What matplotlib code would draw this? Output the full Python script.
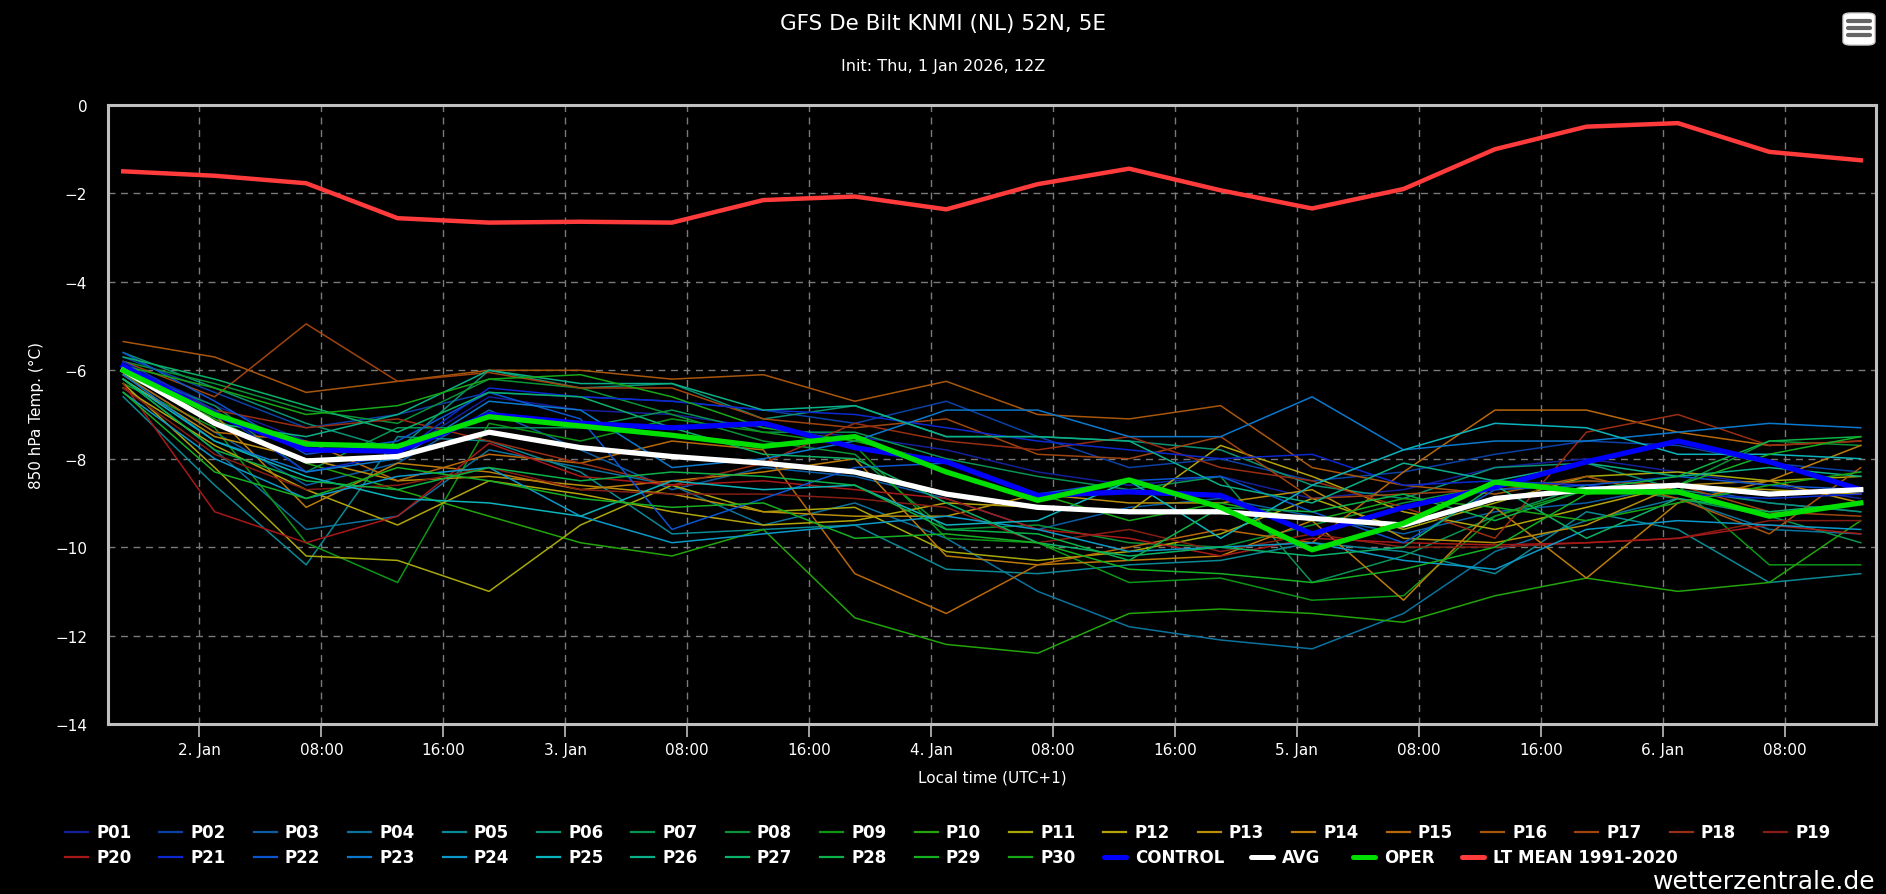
import matplotlib
matplotlib.use("Agg")
import matplotlib.pyplot as plt
import matplotlib.dates as mdates
from matplotlib.lines import Line2D
from matplotlib.patches import FancyBboxPatch
from matplotlib.ticker import FuncFormatter
import pandas as pd

# GFS ensemble 850 hPa temperature, De Bilt, run 1 Jan 2026 12Z (local time UTC+1)
times = pd.date_range("2026-01-01 19:00", periods=20, freq="6h")

members = {
    "P01": [-5.9, -6.8, -7.6, -7.9, -6.6, -6.9, -7.0, -7.3, -7.5, -7.8, -8.3, -8.6, -8.4, -8.9, -8.7, -8.2, -8.0, -8.3, -8.6, -8.9],
    "P02": [-5.7, -6.5, -7.3, -7.0, -6.5, -6.6, -6.7, -6.9, -7.2, -6.7, -7.5, -8.2, -8.0, -8.5, -8.3, -7.9, -7.6, -7.7, -8.1, -8.3],
    "P03": [-6.1, -7.4, -8.6, -8.1, -6.9, -7.8, -8.7, -8.2, -8.4, -8.9, -9.6, -9.1, -8.9, -9.3, -9.7, -9.2, -9.0, -8.6, -9.0, -9.2],
    "P04": [-6.2, -7.8, -9.6, -9.3, -7.8, -8.2, -8.6, -9.5, -9.0, -9.8, -11.0, -11.8, -12.1, -12.3, -11.5, -10.1, -9.4, -8.9, -9.6, -9.7],
    "P05": [-6.6, -8.6, -10.4, -7.5, -7.6, -8.3, -9.7, -9.6, -9.5, -10.5, -10.6, -10.4, -10.3, -9.9, -10.1, -10.6, -9.2, -9.6, -10.8, -10.6],
    "P06": [-5.6, -6.4, -7.2, -7.8, -6.0, -6.4, -6.3, -7.1, -6.8, -7.5, -7.5, -7.6, -7.8, -8.6, -8.9, -8.2, -8.1, -8.7, -9.0, -9.2],
    "P07": [-6.0, -6.8, -8.3, -7.3, -7.3, -7.3, -6.9, -7.4, -7.4, -8.0, -8.4, -8.7, -8.4, -10.8, -10.2, -9.3, -8.6, -8.9, -9.3, -9.9],
    "P08": [-5.8, -6.3, -6.9, -7.2, -6.2, -6.4, -7.0, -7.6, -7.9, -9.6, -9.5, -9.9, -10.0, -9.5, -9.0, -8.6, -8.5, -8.6, -7.6, -7.7],
    "P09": [-6.3, -7.3, -9.9, -10.8, -7.2, -7.6, -7.1, -7.4, -7.7, -9.8, -9.9, -10.8, -10.7, -11.2, -11.1, -9.3, -8.7, -8.6, -10.4, -10.4],
    "P10": [-6.1, -7.1, -8.1, -8.7, -9.3, -9.9, -10.2, -9.6, -11.6, -12.2, -12.4, -11.5, -11.4, -11.5, -11.7, -11.1, -10.7, -11.0, -10.8, -9.4],
    "P11": [-6.3, -8.2, -10.2, -10.3, -11.0, -9.5, -8.6, -9.2, -9.1, -10.1, -10.3, -10.1, -9.7, -8.9, -9.6, -9.0, -8.4, -8.3, -8.5, -8.4],
    "P12": [-6.4, -7.7, -8.7, -9.5, -8.5, -8.8, -9.2, -9.5, -9.4, -9.0, -9.1, -9.2, -7.7, -8.4, -9.2, -9.6, -9.1, -8.6, -8.7, -8.8],
    "P13": [-6.2, -7.5, -8.0, -8.5, -8.4, -8.6, -8.8, -9.2, -9.3, -9.3, -8.8, -9.0, -9.0, -8.7, -9.8, -9.9, -9.5, -8.6, -8.5, -9.0],
    "P14": [-6.0, -7.0, -9.1, -8.1, -8.3, -8.7, -8.5, -8.3, -8.0, -10.2, -10.4, -10.3, -10.2, -9.4, -11.2, -9.1, -10.7, -9.0, -8.5, -7.7],
    "P15": [-6.1, -7.4, -7.6, -8.5, -7.9, -8.1, -7.6, -7.8, -10.6, -11.5, -10.4, -10.0, -9.6, -9.9, -8.3, -6.9, -6.9, -7.4, -7.7, -7.6],
    "P16": [-5.35, -5.7, -6.5, -6.25, -6.0, -6.0, -6.2, -6.1, -6.7, -6.25, -7.0, -7.1, -6.8, -8.2, -8.6, -8.8, -8.4, -8.9, -9.7, -8.2],
    "P17": [-5.8, -6.6, -4.95, -6.25, -6.05, -6.4, -6.4, -7.1, -7.3, -7.1, -7.9, -8.0, -7.5, -8.9, -8.8, -8.7, -8.5, -8.6, -9.2, -9.3],
    "P18": [-6.0, -6.9, -7.3, -7.1, -7.6, -8.1, -8.6, -8.1, -7.2, -7.6, -7.8, -7.5, -8.2, -8.5, -9.1, -9.8, -7.4, -7.0, -7.7, -7.6],
    "P19": [-6.4, -7.9, -8.7, -8.6, -8.2, -8.7, -8.8, -8.8, -8.9, -9.1, -9.9, -9.6, -10.1, -9.7, -10.0, -10.0, -9.9, -9.8, -9.4, -9.4],
    "P20": [-6.3, -9.2, -9.9, -9.3, -7.65, -8.4, -8.6, -8.5, -8.7, -8.9, -9.6, -9.8, -10.2, -9.8, -9.9, -9.95, -9.9, -9.8, -9.5, -9.7],
    "P21": [-5.8, -6.9, -8.3, -7.9, -6.4, -6.6, -6.7, -6.9, -7.0, -7.3, -7.6, -7.8, -8.0, -7.9, -8.6, -8.5, -8.6, -8.8, -8.9, -8.8],
    "P22": [-5.6, -6.7, -7.9, -7.6, -6.5, -7.1, -9.6, -8.9, -8.2, -8.1, -8.8, -8.5, -8.4, -9.2, -9.9, -8.7, -8.6, -8.4, -8.6, -8.7],
    "P23": [-6.1, -7.6, -8.3, -8.0, -6.7, -6.9, -8.2, -8.0, -7.6, -6.9, -6.9, -7.5, -7.5, -6.6, -7.8, -7.6, -7.6, -7.4, -7.2, -7.3],
    "P24": [-6.5, -8.0, -8.9, -8.4, -8.2, -9.3, -9.9, -9.7, -9.5, -9.3, -9.6, -10.1, -10.0, -9.9, -10.3, -10.5, -9.6, -9.4, -9.5, -9.6],
    "P25": [-6.2, -7.6, -8.4, -8.9, -9.0, -9.3, -8.5, -8.7, -8.6, -9.5, -9.4, -8.5, -9.8, -8.6, -7.8, -7.2, -7.3, -7.9, -7.9, -8.0],
    "P26": [-6.0, -7.2, -7.5, -7.0, -6.0, -6.3, -6.3, -6.9, -6.8, -7.5, -7.5, -7.6, -8.6, -9.0, -8.1, -8.5, -8.1, -8.4, -8.2, -8.4],
    "P27": [-5.7, -6.2, -6.8, -7.4, -6.5, -6.6, -7.3, -7.9, -8.0, -9.0, -9.9, -10.2, -10.0, -10.2, -10.0, -8.6, -9.8, -8.9, -9.2, -9.0],
    "P28": [-6.2, -7.8, -8.5, -8.7, -8.2, -8.5, -8.3, -8.4, -8.6, -9.6, -9.7, -10.3, -9.1, -9.2, -8.8, -9.4, -8.7, -8.4, -7.6, -7.5],
    "P29": [-6.5, -8.3, -8.9, -8.2, -8.5, -8.9, -9.1, -9.0, -9.8, -9.7, -9.9, -10.5, -10.6, -10.8, -10.5, -10.0, -8.8, -8.6, -7.9, -7.5],
    "P30": [-5.9, -6.4, -7.0, -6.8, -6.2, -6.1, -6.6, -7.3, -7.6, -8.1, -8.8, -9.4, -9.0, -9.4, -8.9, -9.1, -9.4, -9.0, -8.6, -8.3],
}

control = [-5.9, -7.0, -7.8, -7.83, -7.0, -7.2, -7.3, -7.2, -7.75, -8.07, -8.83, -8.75, -8.83, -9.7, -9.1, -8.64, -8.07, -7.6, -8.07, -8.7]
avg = [-6.0, -7.2, -8.05, -7.95, -7.4, -7.75, -7.95, -8.1, -8.3, -8.8, -9.1, -9.2, -9.2, -9.35, -9.5, -8.9, -8.7, -8.6, -8.8, -8.7]
oper = [-6.0, -7.0, -7.67, -7.72, -7.05, -7.26, -7.47, -7.72, -7.5, -8.3, -8.94, -8.48, -9.1, -10.06, -9.46, -8.53, -8.75, -8.75, -9.3, -9.0]
lt_mean = [-1.5, -1.6, -1.77, -2.56, -2.66, -2.64, -2.66, -2.15, -2.07, -2.36, -1.79, -1.44, -1.93, -2.34, -1.9, -1.0, -0.49, -0.41, -1.06, -1.25]

member_colors = ['#14209a', '#0b40a4', '#0a5ca4', '#0a729c', '#0a8894', '#0a9274', '#0a9254', '#0a9236', '#0c9618', '#22a40a',
                 '#a8a80a', '#b4a40a', '#b88e0a', '#bc7c0a', '#b8680a', '#a8560c', '#a0440e', '#982e12', '#861e14', '#a81818',
                 '#0c28d0', '#0a54d0', '#0a78cc', '#0a98c8', '#0ab4bc', '#0ab088', '#0ab268', '#0ab248', '#14b024', '#16a816']

W, H = 1886, 895
fig = plt.figure(figsize=(W / 100, H / 100), dpi=100, facecolor='black')
ax = fig.add_axes([108 / W, 1 - 725 / H, (1876 - 108) / W, (725 - 106) / H])
ax.set_facecolor('black')

for (name, vals), col in zip(members.items(), member_colors):
    ax.plot(times, vals, color=col, lw=1.1, zorder=2)
ax.plot(times, control, color='#0000ff', lw=3.8, zorder=3)
ax.plot(times, avg, color='#ffffff', lw=3.8, zorder=4)
ax.plot(times, oper, color='#00e000', lw=3.8, zorder=5)
ax.plot(times, lt_mean, color='#ff3b3b', lw=3.2, zorder=6)

ax.set_xlim(pd.Timestamp("2026-01-01 18:00"), pd.Timestamp("2026-01-06 14:00"))
ax.set_ylim(-14, 0)
ax.set_yticks(range(-14, 1, 2))
ax.yaxis.set_major_formatter(FuncFormatter(lambda v, p: f"{int(v)}".replace('-', '\u2212')))
ax.xaxis.set_major_locator(mdates.HourLocator(byhour=[0, 8, 16]))


def fmt_time(v, pos):
    d = mdates.num2date(v)
    if d.hour == 0:
        return f"{d.day}. Jan"
    return d.strftime("%H:%M")


ax.xaxis.set_major_formatter(FuncFormatter(fmt_time))
ax.grid(True, color='#7a7a7a', ls=(0, (5, 4)), lw=1.0, zorder=1)
for s in ax.spines.values():
    s.set_color('#c0c0c0')
    s.set_linewidth(2.2)
ax.tick_params(axis='x', colors='#c0c0c0', length=9, width=1.2, labelcolor='white', labelsize=11, pad=4)
ax.tick_params(axis='y', length=0, labelcolor='white', labelsize=11, pad=15)

ax.set_ylabel('850 hPa Temp. (°C)', color='white', fontsize=11, labelpad=8)
ax.set_xlabel('Local time (UTC+1)', color='white', fontsize=11, labelpad=9)

fig.text(0.5, 1 - 24 / H, 'GFS De Bilt KNMI (NL) 52N, 5E', color='white', fontsize=15.5,
         ha='center', va='center')
fig.text(0.5, 1 - 66 / H, 'Init: Thu, 1 Jan 2026, 12Z', color='white', fontsize=11.5,
         ha='center', va='center')

# legend drawn by hand to keep the fixed column layout
leg_font = ['Liberation Sans Narrow', 'DejaVu Sans']
names = list(members.keys())
row_y = [833, 858]
for i, name in enumerate(names):
    if i < 19:
        x0, y = 65 + 94.4 * i, row_y[0]
    else:
        x0, y = 65 + 94.4 * (i - 19), row_y[1]
    fig.add_artist(Line2D([x0 / W, (x0 + 23) / W], [1 - y / H, 1 - y / H], color=member_colors[i], lw=1.6))
    fig.text((x0 + 31) / W, 1 - y / H, name, color='white', fontsize=12, fontweight='bold',
             family=leg_font, ha='left', va='center')

extra = [('CONTROL', '#0000ff', 1104), ('AVG', '#ffffff', 1251), ('OPER', '#00e000', 1353),
         ('LT MEAN 1991-2020', '#ff3b3b', 1462)]
for name, col, x0 in extra:
    y = row_y[1]
    fig.add_artist(Line2D([x0 / W, (x0 + 22) / W], [1 - y / H, 1 - y / H], color=col, lw=3.6,
                          solid_capstyle='round'))
    fig.text((x0 + 31) / W, 1 - y / H, name, color='white', fontsize=12, fontweight='bold',
             family=leg_font, ha='left', va='center')

fig.text(1876 / W, 1 - 882 / H, 'wetterzentrale.de', color='white', fontsize=18,
         ha='right', va='center')

# menu button
fig.add_artist(FancyBboxPatch((1843 / W, 1 - 46 / H), 32 / W, 32 / H, boxstyle='round,pad=0,rounding_size=0.004',
                              transform=fig.transFigure, facecolor='white', edgecolor='#cccccc'))
for yy in [22, 29, 36]:
    fig.add_artist(Line2D([1848 / W, 1870 / W], [1 - yy / H, 1 - yy / H], color='#666666', lw=3,
                          solid_capstyle='round'))

fig.savefig('out.png', dpi=100, facecolor='black')
